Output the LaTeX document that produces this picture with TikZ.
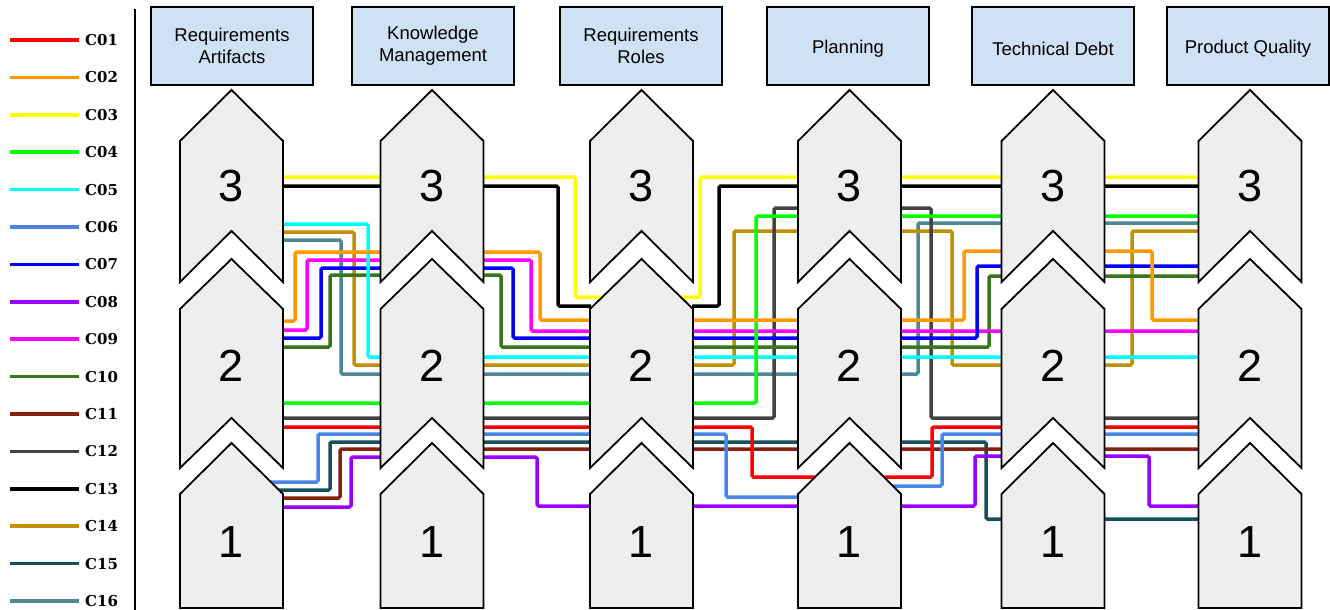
\documentclass[tikz,border=0pt]{standalone}
\usepackage{fontspec}
\setmainfont{Liberation Sans}
\newfontfamily\legfont{DejaVu Serif}
\definecolor{c01}{HTML}{FF0000}
\definecolor{c02}{HTML}{FF9900}
\definecolor{c03}{HTML}{FFFF00}
\definecolor{c04}{HTML}{00FF00}
\definecolor{c05}{HTML}{00FFFF}
\definecolor{c06}{HTML}{4A86E8}
\definecolor{c07}{HTML}{0000FF}
\definecolor{c08}{HTML}{9900FF}
\definecolor{c09}{HTML}{FF00FF}
\definecolor{c10}{HTML}{38761D}
\definecolor{c11}{HTML}{85200C}
\definecolor{c12}{HTML}{434343}
\definecolor{c13}{HTML}{000000}
\definecolor{c14}{HTML}{BF9000}
\definecolor{c15}{HTML}{134F5C}
\definecolor{c16}{HTML}{4E8796}
\definecolor{hdrfill}{HTML}{CFE2F3}
\definecolor{chevfill}{HTML}{EEEEEE}
\begin{document}
\begin{tikzpicture}[x=1pt,y=-1pt,
  cl/.style={line width=3.5pt,rounded corners=1.5pt},
  hdr/.style={draw=black,line width=1.6pt,fill=hdrfill,minimum width=162pt,minimum height=78pt,align=center,inner sep=0pt,font=\fontsize{18.5}{22}\selectfont},
  hdrtext/.style={inner sep=0pt,font=\fontsize{18.5}{22}\selectfont},
  chevshape/.style={draw=black,line width=1.8pt,fill=chevfill,line join=miter},
  digit/.style={inner sep=0pt,font=\fontsize{45}{45}\selectfont},
  leg/.style={anchor=west,inner sep=0pt,font=\legfont\bfseries\fontsize{15}{15}\selectfont}]
\useasboundingbox (0,0) rectangle (1330,610);
\fill[white] (0,0) rectangle (1330,610);

% legend
\foreach \n/\c [count=\i] in {C01/c01,C02/c02,C03/c03,C04/c04,C05/c05,C06/c06,C07/c07,C08/c08,C09/c09,C10/c10,C11/c11,C12/c12,C13/c13,C14/c14,C15/c15,C16/c16}{
  \pgfmathsetmacro{\yy}{40+(\i-1)*37.4}
  \draw[line width=3.5pt,\c] (10,\yy) -- (79,\yy);
  \node[leg] (leg\i) at (85,\yy) {\n};
}
\draw[line width=1.2pt] (135,9) -- (135,610);

% headers
\node[hdr] (h1) at (232,46) {Requirements\\Artifacts};
\node[hdr] (h2) at (433,46) {Knowledge\\Management};
\node[hdr] (h3) at (641,46) {Requirements\\Roles};
\node[hdr] (h4) at (848,46) {};
\node[hdrtext] (t4) at (848,48.5) {Planning};
\node[hdr] (h5) at (1053,46) {};
\node[hdrtext] (t5) at (1053,48.5) {Technical Debt};
\node[hdr] (h6) at (1248,46) {};
\node[hdrtext] (t6) at (1248,48.5) {Product Quality};

% connector lines (behind the chevrons), shown only in the gaps between columns
\begin{scope}
\clip (282,0) rectangle (381.5,610) (482.5,0) rectangle (591,610) (692,0) rectangle (799,610) (900,0) rectangle (1002.5,610) (1103.5,0) rectangle (1199.5,610)
      (263,475) rectangle (283,495) (589,291) rectangle (604,302) (676,291) rectangle (694,302) (797,471) rectangle (816,483) (878,471) rectangle (902,492);
\draw[cl,c16] (231.5,240) -- (341,240) -- (341,374) -- (918,374) -- (918,223) -- (1250,223);
\draw[cl,c15] (231.5,490) -- (330,490) -- (330,442) -- (986,442) -- (986,519) -- (1250,519);
\draw[cl,c14] (231.5,232) -- (354,232) -- (354,365) -- (734,365) -- (734,231) -- (952,231) -- (952,365) -- (1132,365) -- (1132,231) -- (1250,231);
\draw[cl,c13] (231.5,186) -- (558,186) -- (558,306) -- (719,306) -- (719,186) -- (1250,186);
\draw[cl,c12] (231.5,418) -- (774,418) -- (774,208) -- (931,208) -- (931,418) -- (1250,418);
\draw[cl,c11] (231.5,498) -- (340,498) -- (340,449) -- (1250,449);
\draw[cl,c10] (231.5,347) -- (330,347) -- (330,275) -- (501,275) -- (501,347) -- (989,347) -- (989,276) -- (1250,276);
\draw[cl,c09] (231.5,330) -- (307,330) -- (307,260) -- (531,260) -- (531,331) -- (1250,331);
\draw[cl,c08] (231.5,507) -- (351,507) -- (351,457) -- (537,457) -- (537,506) -- (975,506) -- (975,456) -- (1149,456) -- (1149,506) -- (1250,506);
\draw[cl,c07] (231.5,338) -- (321,338) -- (321,268) -- (513,268) -- (513,338) -- (977,338) -- (977,266) -- (1250,266);
\draw[cl,c06] (231.5,482) -- (318,482) -- (318,434) -- (726,434) -- (726,497) -- (849.5,497) -- (849.5,486) -- (942,486) -- (942,434) -- (1250,434);
\draw[cl,c05] (231.5,224) -- (368,224) -- (368,357) -- (1250,357);
\draw[cl,c04] (231.5,403) -- (756,403) -- (756,216) -- (1250,216);
\draw[cl,c03] (231.5,177) -- (575,177) -- (575,297) -- (700,297) -- (700,177) -- (1250,177);
\draw[cl,c02] (231.5,321) -- (295,321) -- (295,252) -- (540,252) -- (540,320) -- (964,320) -- (964,251) -- (1152,251) -- (1152,320) -- (1250,320);
\draw[cl,c01] (231.5,427) -- (752,427) -- (752,477) -- (932,477) -- (932,427) -- (1250,427);
\end{scope}

% chevrons
\foreach \cx [count=\k] in {231.5,432,641.5,849.5,1053,1250}{
  \draw[chevshape] (\cx-51.5,141) -- (\cx,90) -- (\cx+51.5,141) -- (\cx+51.5,282) -- (\cx,231) -- (\cx-51.5,282) -- cycle;
  \draw[chevshape] (\cx-51.5,309) -- (\cx,259) -- (\cx+51.5,309) -- (\cx+51.5,468) -- (\cx,418) -- (\cx-51.5,468) -- cycle;
  \draw[chevshape] (\cx-51.5,494) -- (\cx,443) -- (\cx+51.5,494) -- (\cx+51.5,608) -- (\cx-51.5,608) -- cycle;
  \node[digit] (d3-\k) at (\cx,186) {3};
  \node[digit] (d2-\k) at (\cx,366) {2};
  \node[digit] (d1-\k) at (\cx,542) {1};
}
\end{tikzpicture}
\end{document}
